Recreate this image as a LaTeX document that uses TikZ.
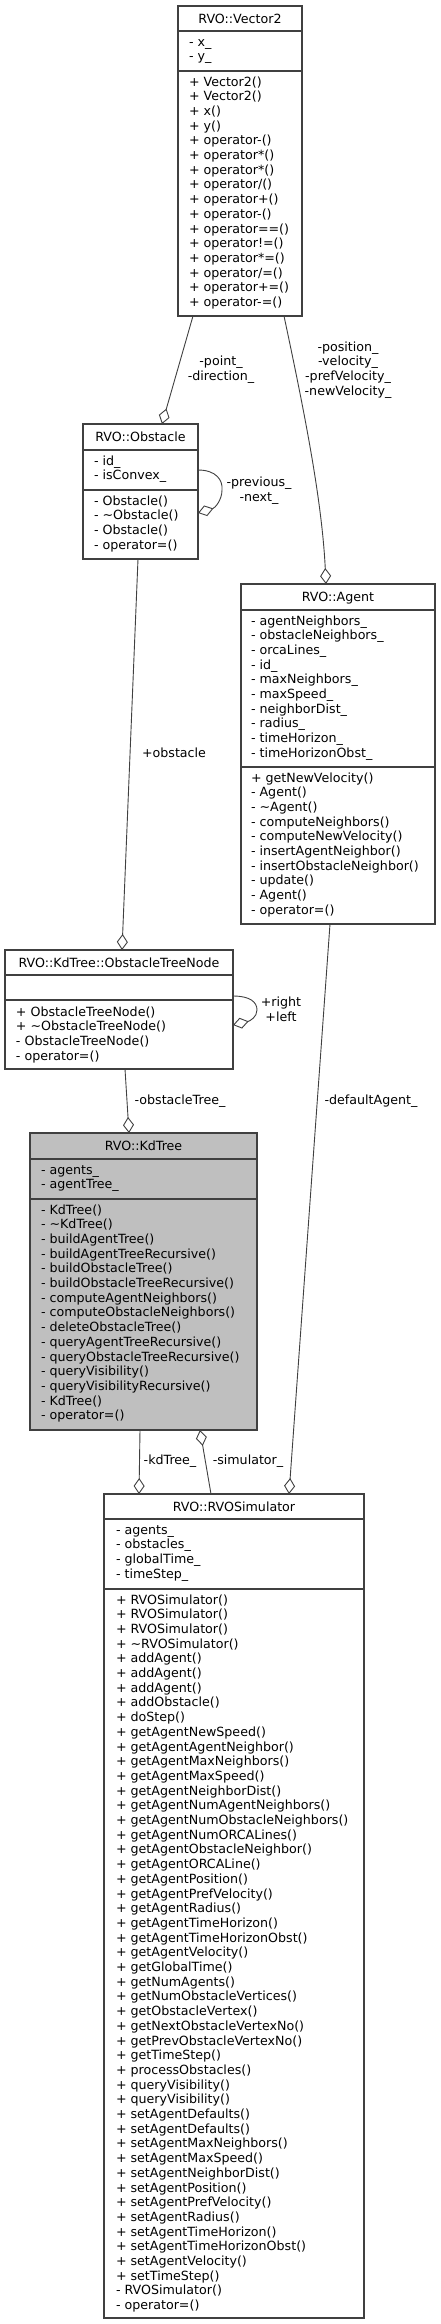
\documentclass[tikz,border=0pt]{standalone}
\usepackage{fontspec}
\setmainfont{DejaVu Sans}
\usetikzlibrary{arrows.meta}
\definecolor{edgegray}{RGB}{64,64,64}
\definecolor{kdfill}{RGB}{191,191,191}
\newcommand{\dv}{\fontsize{12.65}{14.7}\selectfont}
\newcommand{\tl}{\textasciitilde{}}
\tikzset{
  umlbox/.style={draw=edgegray, line width=1.3pt, outer sep=0pt, inner sep=0pt},
  sepline/.style={draw=edgegray, line width=1.3pt},
  txt/.style={inner sep=0pt, outer sep=0pt, font=\dv},
  rel/.style={draw=edgegray, line width=0.9pt, -{Diamond[fill=white,length=16pt,width=11pt]}},
  lbl/.style={inner sep=0pt, align=center, font=\dv},
}
% name, left, right, top, sep1, sep2, bottom, fill, title
\newcommand{\umlclass}[9]{%
  \node[umlbox, fill=#8, anchor=north west, minimum width={(#3-#2)*1pt}, minimum height={(#7-#4)*1pt}] (#1) at (#2,#4) {};
  \draw[sepline] (#2,#5) -- (#3,#5);
  \draw[sepline] (#2,#6) -- (#3,#6);
  \node[txt, anchor=base] (#1-title) at ({(#2+#3)/2},{(#4+#5)/2+4.6}) {#9};
}
% prefix, x, first baseline, list
\newcommand{\umllines}[4]{%
  \foreach \t [count=\i] in {#4} {\node[txt, anchor=base west] (#1\i) at (#2,{#3+(\i-1)*14.7}) {\t};}
}
\begin{document}
\begin{tikzpicture}[x=1pt,y=-1pt]
\useasboundingbox[fill=white] (0,0) rectangle (441,2324);

% ---------- RVO::Vector2
\umlclass{vec}{178}{302}{6}{31}{71}{316}{white}{RVO::Vector2}
\umllines{veca}{189}{46}{- x\_,- y\_}
\umllines{vecm}{189}{86}{+ Vector2(),+ Vector2(),+ x(),+ y(),+ operator-(),+ operator*(),+ operator*(),+ operator/(),+ operator+(),+ operator-(),+ operator==(),+ operator!=(),+ operator*=(),+ operator/=(),+ operator+=(),+ operator-=()}

% ---------- RVO::Obstacle
\umlclass{obs}{83}{198}{424}{450}{490}{559}{white}{RVO::Obstacle}
\umllines{obsa}{94}{465}{- id\_,- isConvex\_}
\umllines{obsm}{94}{505}{- Obstacle(),- \tl Obstacle(),- Obstacle(),- operator=()}

% ---------- RVO::Agent
\umlclass{agt}{241}{435}{584}{610}{767}{924}{white}{RVO::Agent}
\umllines{agta}{251}{625}{- agentNeighbors\_,- obstacleNeighbors\_,- orcaLines\_,- id\_,- maxNeighbors\_,- maxSpeed\_,- neighborDist\_,- radius\_,- timeHorizon\_,- timeHorizonObst\_}
\umllines{agtm}{251}{782}{+ getNewVelocity(),- Agent(),- \tl Agent(),- computeNeighbors(),- computeNewVelocity(),- insertAgentNeighbor(),- insertObstacleNeighbor(),- update(),- Agent(),- operator=()}

% ---------- RVO::KdTree::ObstacleTreeNode
\umlclass{otn}{5}{233}{950}{975}{1000}{1069}{white}{RVO::KdTree::ObstacleTreeNode}
\umllines{otnm}{16}{1016}{+ ObstacleTreeNode(),+ \tl ObstacleTreeNode(),- ObstacleTreeNode(),- operator=()}

% ---------- RVO::KdTree
\umlclass{kd}{30}{257}{1133}{1159}{1199}{1430}{kdfill}{RVO::KdTree}
\umllines{kda}{41}{1174}{- agents\_,- agentTree\_}
\umllines{kdm}{41}{1214}{- KdTree(),- \tl KdTree(),- buildAgentTree(),- buildAgentTreeRecursive(),- buildObstacleTree(),- buildObstacleTreeRecursive(),- computeAgentNeighbors(),- computeObstacleNeighbors(),- deleteObstacleTree(),- queryAgentTreeRecursive(),- queryObstacleTreeRecursive(),- queryVisibility(),- queryVisibilityRecursive(),- KdTree(),- operator=()}

% ---------- RVO::RVOSimulator
\umlclass{sim}{104}{364}{1494}{1519}{1589}{2318}{white}{RVO::RVOSimulator}
\umllines{sima}{116}{1534}{- agents\_,- obstacles\_,- globalTime\_,- timeStep\_}
\umllines{simm}{116}{1604}{+ RVOSimulator(),+ RVOSimulator(),+ RVOSimulator(),+ \tl RVOSimulator(),+ addAgent(),+ addAgent(),+ addAgent(),+ addObstacle(),+ doStep(),+ getAgentNewSpeed(),+ getAgentAgentNeighbor(),+ getAgentMaxNeighbors(),+ getAgentMaxSpeed(),+ getAgentNeighborDist(),+ getAgentNumAgentNeighbors(),+ getAgentNumObstacleNeighbors(),+ getAgentNumORCALines(),+ getAgentObstacleNeighbor(),+ getAgentORCALine(),+ getAgentPosition(),+ getAgentPrefVelocity(),+ getAgentRadius(),+ getAgentTimeHorizon(),+ getAgentTimeHorizonObst(),+ getAgentVelocity(),+ getGlobalTime(),+ getNumAgents(),+ getNumObstacleVertices(),+ getObstacleVertex(),+ getNextObstacleVertexNo(),+ getPrevObstacleVertexNo(),+ getTimeStep(),+ processObstacles(),+ queryVisibility(),+ queryVisibility(),+ setAgentDefaults(),+ setAgentDefaults(),+ setAgentMaxNeighbors(),+ setAgentMaxSpeed(),+ setAgentNeighborDist(),+ setAgentPosition(),+ setAgentPrefVelocity(),+ setAgentRadius(),+ setAgentTimeHorizon(),+ setAgentTimeHorizonObst(),+ setAgentVelocity(),+ setTimeStep(),- RVOSimulator(),- operator=()}

% ---------- connector end points
\coordinate (e1s) at ([xshift=15pt]vec.south west);
\coordinate (e1t) at ([xshift=79pt]obs.north west);
\coordinate (e2s) at ([xshift=106pt]vec.south west);
\coordinate (e2t) at ([xshift=85pt]agt.north west);
\coordinate (e3s) at ([yshift=-46pt]obs.north east);
\coordinate (e3t) at ([yshift=-89pt]obs.north east);
\coordinate (e4s) at ([xshift=55pt]obs.south west);
\coordinate (e4t) at ([xshift=117pt]otn.north west);
\coordinate (e5s) at ([yshift=-46pt]otn.north east);
\coordinate (e5t) at ([yshift=-75pt]otn.north east);
\coordinate (e6s) at ([xshift=120pt]otn.south west);
\coordinate (e6t) at ([xshift=99pt]kd.north west);
\coordinate (e7s) at ([xshift=89pt]agt.south west);
\coordinate (e7t) at ([xshift=185pt]sim.north west);
\coordinate (e8s) at ([xshift=110pt]kd.south west);
\coordinate (e8t) at ([xshift=35pt]sim.north west);
\coordinate (e9s) at ([xshift=107pt]sim.north west);
\coordinate (e9t) at ([xshift=170pt]kd.south west);

% ---------- connectors
\draw[rel] (e1s) -- (e1t);
\draw[rel] (e2s) .. controls (304,410) and (322,500) .. (e2t);
\draw[rel] (e3s) .. controls (216,470) and (223,480) .. (222,490) .. controls (222,500) and (215,508) .. (e3t);
\draw[rel] (e4s) -- (e4t);
\draw[rel] (e5s) .. controls (250,996) and (257,1002) .. (257,1010) .. controls (257,1017) and (250,1021) .. (e5t);
\draw[rel] (e6s) -- (e6t);
\draw[rel] (e7s) -- (e7t);
\draw[rel] (e8s) -- (e8t);
\draw[rel] (e9s) -- (e9t);

% ---------- connector labels
\node[lbl] (l1) at (221,370) {-point\_\\-direction\_};
\node[lbl] (l2) at (348,370) {-position\_\\-velocity\_\\-prefVelocity\_\\-newVelocity\_};
\node[lbl] (l3) at (259,491) {-previous\_\\-next\_};
\node[lbl] (l4) at (174,753) {+obstacle};
\node[lbl] (l5) at (281,1009) {+right\\+left};
\node[lbl] (l6) at (180,1101) {-obstacleTree\_};
\node[lbl] (l7) at (371,1101) {-defaultAgent\_};
\node[lbl] (l8) at (170,1461) {-kdTree\_};
\node[lbl] (l9) at (248,1461) {-simulator\_};
\end{tikzpicture}
\end{document}
